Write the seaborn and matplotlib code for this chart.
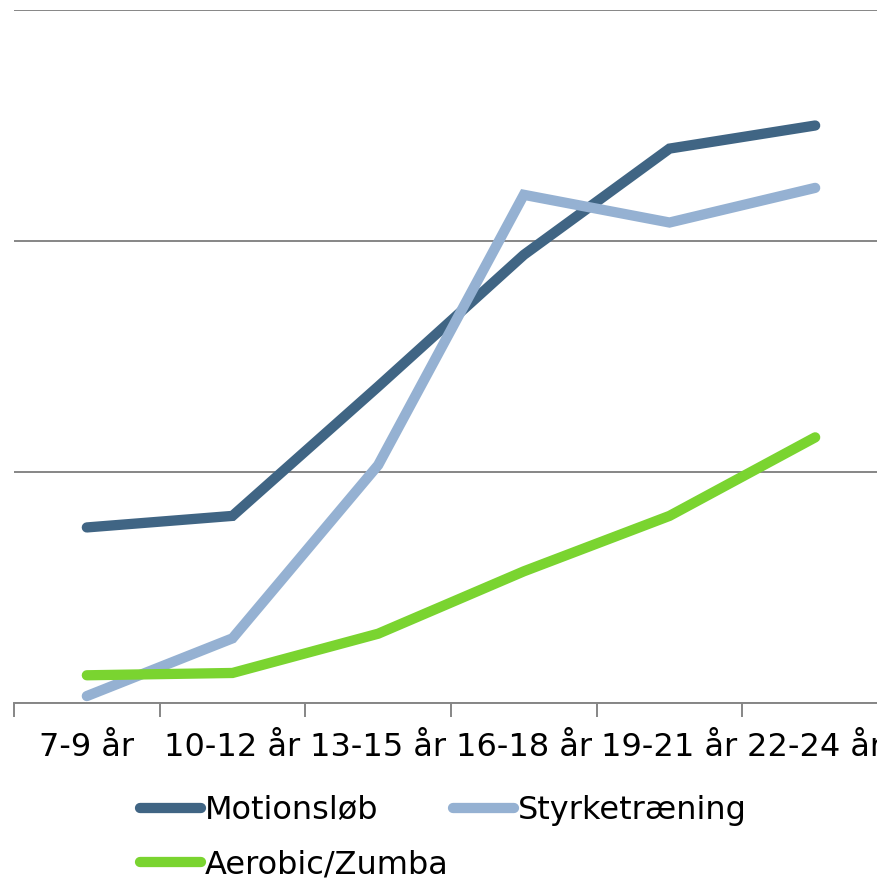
import matplotlib
matplotlib.use('Agg')
import matplotlib.pyplot as plt
import seaborn as sns
import pandas as pd
from matplotlib.lines import Line2D

# data (y in percent)
categories = ['7-9 år', '10-12 år', '13-15 år', '16-18 år', '19-21 år', '22-24 år']
motionslob = [7.6, 8.1, 13.7, 19.4, 24.0, 25.0]
styrketraening = [0.3, 2.8, 10.3, 22.0, 20.8, 22.3]
aerobic = [1.2, 1.3, 3.0, 5.7, 8.1, 11.5]

series_names = ['Motionsløb', 'Styrketræning', 'Aerobic/Zumba']
colors = ['#406584', '#95B1D2', '#7AD430']

df = pd.DataFrame({
    'x': list(range(len(categories))) * 3,
    'value': motionslob + styrketraening + aerobic,
    'serie': [s for s in series_names for _ in categories],
})

sns.set_style('white')
plt.rcParams['font.family'] = ['DejaVu Sans']
plt.rcParams['text.color'] = 'black'
plt.rcParams['xtick.color'] = 'black'

fig = plt.figure(figsize=(8.78, 8.80), dpi=100)
ax = fig.add_axes([14 / 878, 177 / 880, 874 / 878, 693 / 880])

sns.lineplot(data=df, x='x', y='value', hue='serie', palette=colors,
             hue_order=series_names, linewidth=7.4, ax=ax, legend=False,
             solid_capstyle='round', solid_joinstyle='miter')

ax.set_xlim(-0.5, 5.5)
ax.set_ylim(0, 30)
ax.set_yticks([0, 10, 20, 30])
ax.set_yticklabels([])
ax.yaxis.grid(True, color='#868686', linewidth=1.4)
ax.set_axisbelow(True)
for sp in ['left', 'right', 'top']:
    ax.spines[sp].set_visible(False)
ax.spines['bottom'].set_color('#868686')
ax.spines['bottom'].set_linewidth(1.4)

ax.set_xticks(range(len(categories)))
ax.set_xticklabels(categories, fontsize=23, color='black')
ax.tick_params(axis='x', which='major', length=0, pad=21)
ax.set_xticks([i - 0.5 for i in range(len(categories) + 1)], minor=True)
ax.tick_params(axis='x', which='minor', bottom=True, length=10, width=1.4,
               color='#868686', direction='out')
ax.tick_params(axis='y', length=0)
ax.set_xlabel('')
ax.set_ylabel('')

# legend: row-wise order Motionsløb, Styrketræning / Aerobic/Zumba
handles = [Line2D([], [], color=c, linewidth=7.4, solid_capstyle='round') for c in colors]
order = [0, 2, 1]
fig.legend([handles[i] for i in order], [series_names[i] for i in order],
           ncol=2, loc='upper left', bbox_to_anchor=(140 / 878, 1 - 795 / 880),
           frameon=False, fontsize=23, handlelength=1.9, handletextpad=0.12,
           columnspacing=0.15, labelspacing=0.72, borderpad=0, borderaxespad=0)

plt.savefig('out.png', dpi=100)
